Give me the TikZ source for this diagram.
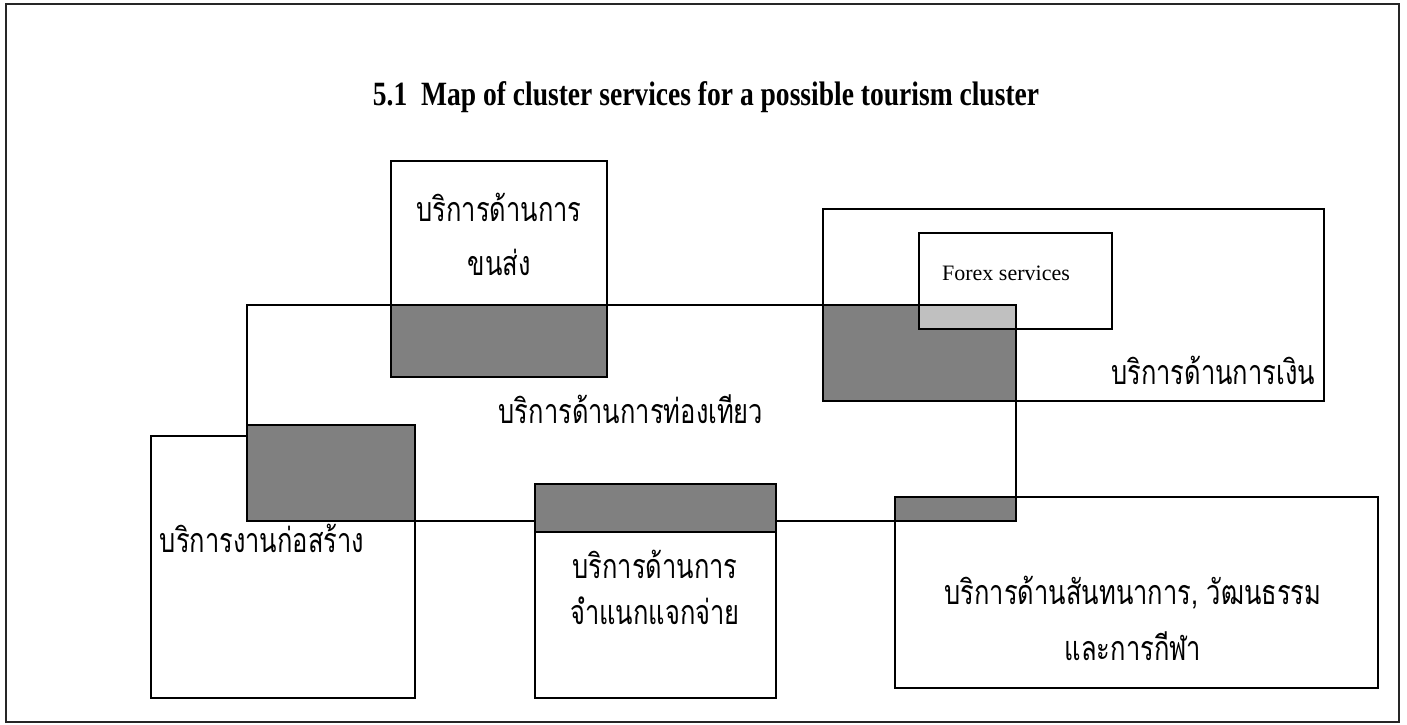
\documentclass[tikz,border=0pt]{standalone}
\usepackage{fontspec}
\setmainfont{Liberation Serif}
\newfontfamily\thai[Script=Thai,FakeStretch=0.75]{Loma}
\newfontfamily\titlefont[FakeStretch=0.81]{Liberation Serif}
\usetikzlibrary{fit}
\definecolor{darkfill}{RGB}{128,128,128}
\definecolor{lightfill}{RGB}{192,192,192}
\begin{document}
\begin{tikzpicture}[x=1pt,y=-1pt,
  region/.style={draw=black,line width=1.4pt,inner sep=0pt,outer sep=0pt,fill=none},
  wbox/.style={draw=black,line width=1.4pt,inner sep=0pt,outer sep=0pt,fill=white},
  overlap/.style={draw=black,line width=2pt,inner sep=0pt,outer sep=0pt,fill=darkfill},
  overlap2/.style={draw=none,inner sep=0pt,outer sep=0pt,fill=lightfill},
  thlabel/.style={font=\thai\fontsize{34}{40}\selectfont,inner sep=0pt,align=center},
  enlabel/.style={font=\fontsize{22}{26}\selectfont,inner sep=0pt}]
\useasboundingbox (0,0) rectangle (1407,724);
\fill[white] (0,0) rectangle (1407,724);
% outer frame
\node[draw=black!85,line width=2pt,inner sep=0pt,fit={(6,4) (1399,722)}] (frame) {};
% title
\node[font=\titlefont\bfseries\fontsize{34}{40}\selectfont,inner sep=0pt] (title) at (706,97) {5.1\ \ Map of cluster services for a possible tourism cluster};
% main regions (white boxes)
\node[wbox,fit={(151,436) (415,698)}] (constr) {};
\node[wbox,fit={(535,484) (776,698)}] (distr) {};
\node[wbox,fit={(895,497) (1378,688)}] (culture) {};
\node[wbox,fit={(391,161) (607,377)}] (transport) {};
\node[wbox,fit={(823,209) (1324,401)}] (finance) {};
% tourism region outline
\node[region,fit={(247,305) (1016,521)}] (tourism) {};
% overlaps
\node[overlap,fit={(391,305) (607,377)}] (ovTransport) {};
\node[overlap,fit={(823,305) (1016,401)}] (ovFinance) {};
\node[overlap,fit={(247,425) (415,521)}] (ovConstr) {};
\node[overlap,fit={(535,484) (776,532)}] (ovDistr) {};
\node[overlap,fit={(895,497) (1016,521)}] (ovCulture) {};
\node[overlap2,fit={(920,306) (1015,329)}] (ovForex) {};
% forex box outline
\node[draw=black,line width=1.4pt,inner sep=0pt,fit={(919,233) (1112,329)}] (forex) {};
% labels
\node[thlabel] (lTransport1) at (499,207) {บริการด้านการ};
\node[thlabel] (lTransport2) at (499,262) {ขนส่ง};
\node[thlabel] (lTourism) at (631,409) {บริการด้านการท่องเทียว};
\node[thlabel] (lFinance) at (1213,370) {บริการด้านการเงิน};
\node[thlabel] (lConstr) at (262,538) {บริการงานก่อสร้าง};
\node[thlabel] (lDistr1) at (655,564) {บริการด้านการ};
\node[thlabel] (lDistr2) at (655,611) {จำแนกแจกจ่าย};
\node[thlabel] (lCulture1) at (1133,593) {บริการด้านสันทนาการ, วัฒนธรรม};
\node[thlabel] (lCulture2) at (1133,646) {และการกีฬา};
\node[enlabel] (lForex) at (1006,273) {Forex services};
\end{tikzpicture}
\end{document}
